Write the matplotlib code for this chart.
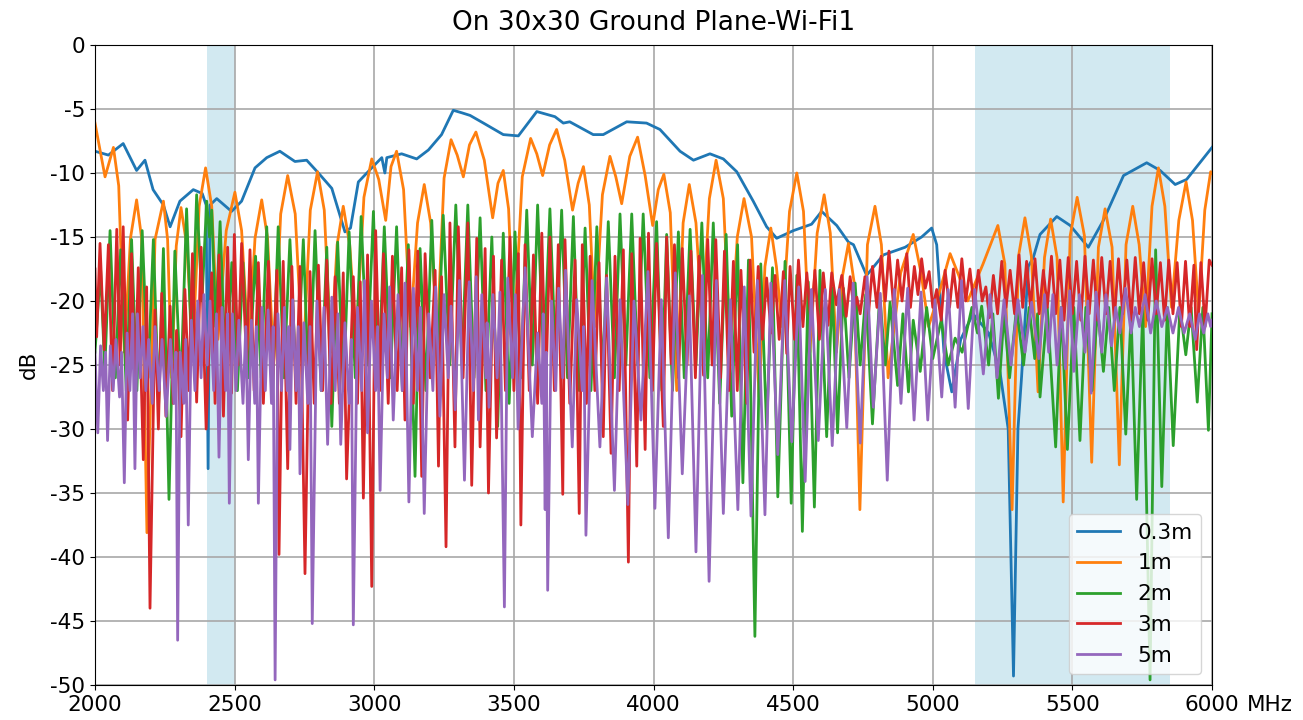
import numpy as np
import matplotlib
matplotlib.use("Agg")
import matplotlib.pyplot as plt

# (MHz, dB) points
trace_03m = [
    (2000, -8.3), (2048, -8.6), (2101, -7.7), (2149, -9.8), (2179, -9.0), (2208, -11.3),
    (2245, -12.5), (2269, -14.2), (2304, -12.2), (2352, -11.3), (2384, -11.6), (2398, -12.5),
    (2405, -33.1), (2412, -12.5), (2436, -12.0), (2489, -13.0), (2525, -12.2), (2573, -9.6),
    (2615, -8.8), (2662, -8.3), (2716, -9.1), (2758, -9.0), (2800, -10.0), (2848, -11.2),
    (2895, -14.6), (2915, -14.3), (2943, -10.7), (2991, -9.6), (3027, -8.8), (3038, -10.0),
    (3045, -8.8), (3098, -8.5), (3152, -8.9), (3194, -8.2), (3241, -7.0), (3283, -5.1),
    (3314, -5.3), (3343, -5.5), (3391, -6.1), (3462, -7.0), (3516, -7.1), (3582, -5.2),
    (3647, -5.6), (3677, -6.1), (3700, -6.0), (3784, -7.0), (3820, -7.0), (3904, -6.0),
    (3975, -6.1), (4023, -6.6), (4095, -8.3), (4143, -9.0), (4202, -8.5), (4250, -8.9),
    (4298, -9.9), (4357, -12.2), (4405, -14.2), (4441, -15.1), (4501, -14.5), (4566, -14.0),
    (4602, -13.0), (4656, -14.1), (4698, -15.4), (4716, -15.6), (4763, -18.0), (4823, -16.4),
    (4901, -15.8), (4960, -15.0), (4996, -14.3), (5014, -15.6), (5040, -24.0), (5068, -27.1),
    (5100, -23.0), (5144, -21.0), (5200, -22.5), (5241, -25.6), (5270, -30.0), (5289, -49.3),
    (5305, -30.0), (5318, -25.9), (5342, -17.3), (5360, -16.6), (5384, -14.8), (5444, -13.4),
    (5492, -14.1), (5557, -15.8), (5611, -13.7), (5683, -10.2), (5766, -9.2), (5814, -9.8),
    (5868, -10.9), (5909, -10.5), (6000, -8.0),
]

trace_1m = [
    (2000, -6.1), (2036, -10.3), (2066, -8.0), (2085, -11.0), (2105, -24.0), (2127, -15.1),
    (2149, -12.1), (2167, -15.1), (2186, -38.1), (2215, -15.2), (2245, -12.2), (2260, -15.2),
    (2275, -26.0), (2291, -15.7), (2308, -12.7), (2329, -15.7), (2350, -24.0), (2373, -12.6),
    (2396, -9.6), (2418, -12.6), (2440, -23.0), (2470, -14.5), (2501, -11.5), (2525, -14.5),
    (2550, -24.0), (2573, -15.1), (2597, -12.1), (2618, -15.1), (2640, -25.0), (2665, -13.2),
    (2690, -10.2), (2717, -13.2), (2745, -25.0), (2771, -12.9), (2797, -9.9), (2821, -12.9),
    (2845, -24.0), (2867, -15.6), (2889, -12.6), (2912, -15.6), (2935, -23.0), (2963, -11.9),
    (2991, -8.9), (3016, -10.5), (3041, -13.7), (3060, -9.5), (3080, -8.3), (3105, -11.3),
    (3130, -22.0), (3155, -13.9), (3179, -10.9), (3202, -13.9), (3225, -23.0), (3250, -10.4),
    (3275, -7.4), (3297, -8.6), (3319, -10.3), (3341, -7.8), (3364, -6.8), (3394, -9.0),
    (3424, -13.5), (3443, -10.8), (3462, -9.8), (3481, -12.8), (3500, -23.0), (3530, -10.3),
    (3560, -7.3), (3582, -8.5), (3603, -10.2), (3628, -7.8), (3653, -6.6), (3682, -9.0),
    (3710, -12.9), (3730, -10.8), (3749, -9.5), (3770, -12.5), (3790, -22.0), (3817, -11.7),
    (3844, -8.7), (3865, -10.3), (3886, -12.4), (3915, -8.7), (3943, -7.2), (3970, -10.2),
    (3997, -14.1), (4017, -11.3), (4037, -10.1), (4060, -13.1), (4083, -27.0), (4106, -13.9),
    (4128, -10.9), (4152, -13.9), (4175, -22.0), (4200, -12.0), (4224, -9.0), (4250, -12.0),
    (4275, -24.0), (4300, -15.0), (4324, -12.0), (4351, -15.0), (4378, -27.5), (4399, -17.3),
    (4420, -14.3), (4440, -17.3), (4460, -22.0), (4487, -13.0), (4513, -10.0), (4537, -13.0),
    (4560, -24.0), (4586, -14.7), (4611, -11.7), (4633, -14.7), (4655, -24.0), (4677, -18.0),
    (4698, -15.5), (4718, -18.5), (4739, -36.3), (4766, -15.6), (4793, -12.6), (4816, -15.6),
    (4840, -26.0), (4885, -17.8), (4930, -14.8), (4958, -17.8), (4985, -22.0), (5024, -19.3),
    (5062, -16.3), (5093, -18.0), (5125, -20.0), (5180, -17.1), (5233, -14.1), (5258, -17.1),
    (5284, -36.3), (5307, -16.5), (5330, -13.5), (5353, -16.5), (5377, -27.1), (5400, -16.6),
    (5422, -13.6), (5445, -16.6), (5467, -35.7), (5492, -14.9), (5517, -11.9), (5543, -14.9),
    (5569, -32.6), (5593, -15.8), (5617, -12.8), (5642, -15.8), (5668, -32.8), (5692, -15.6),
    (5716, -12.6), (5739, -15.6), (5762, -22.0), (5785, -12.6), (5808, -9.6), (5831, -12.6),
    (5855, -20.5), (5881, -13.7), (5907, -10.7), (5930, -13.7), (5952, -21.0), (5974, -12.9),
    (5995, -9.9), (6000, -10.0),
]

trace_2m = [
    (2000, -24.0), (2020, -17.5), (2035, -25.5), (2054, -14.5), (2073, -26.0), (2092, -16.0),
    (2112, -27.0), (2131, -15.2), (2150, -27.0), (2169, -14.5), (2190, -26.0), (2209, -15.2),
    (2228, -28.0), (2245, -15.9), (2265, -35.5), (2286, -16.1), (2307, -27.0), (2328, -12.8),
    (2346, -24.0), (2364, -11.7), (2383, -20.0), (2400, -12.2), (2410, -15.0), (2418, -12.9),
    (2432, -22.0), (2448, -13.8), (2468, -26.0), (2490, -17.0), (2510, -27.0), (2530, -17.0),
    (2550, -26.0), (2575, -16.5), (2595, -26.0), (2615, -14.2), (2636, -27.0), (2656, -14.2),
    (2677, -26.0), (2698, -15.2), (2722, -27.0), (2746, -15.2), (2767, -28.0), (2788, -14.5),
    (2810, -27.0), (2830, -15.8), (2848, -29.8), (2869, -15.4), (2890, -27.0), (2910, -14.6),
    (2932, -26.0), (2953, -13.4), (2975, -25.0), (2997, -13.0), (3016, -26.0), (3036, -14.2),
    (3058, -26.0), (3080, -14.2), (3101, -27.0), (3122, -15.6), (3146, -33.7), (3164, -15.9),
    (3185, -27.0), (3206, -13.7), (3226, -25.0), (3247, -13.3), (3270, -25.0), (3292, -12.5),
    (3314, -25.0), (3335, -12.5), (3357, -26.0), (3379, -13.5), (3400, -27.0), (3421, -15.0),
    (3442, -29.8), (3462, -14.7), (3483, -28.0), (3504, -14.6), (3525, -26.0), (3546, -12.9),
    (3566, -25.0), (3585, -12.5), (3607, -25.0), (3629, -12.8), (3650, -25.0), (3671, -12.9),
    (3692, -26.0), (3713, -13.4), (3734, -27.0), (3755, -14.3), (3776, -27.0), (3797, -14.2),
    (3818, -26.0), (3838, -13.8), (3860, -26.0), (3880, -13.2), (3901, -25.0), (3922, -13.2),
    (3943, -25.0), (3963, -13.2), (3987, -26.0), (4011, -13.8), (4030, -27.0), (4047, -14.8),
    (4068, -27.0), (4089, -14.6), (4110, -26.0), (4131, -14.4), (4152, -25.0), (4173, -13.9),
    (4194, -26.0), (4214, -13.9), (4237, -28.0), (4260, -14.8), (4280, -29.0), (4301, -15.6),
    (4320, -34.2), (4340, -16.8), (4363, -46.2), (4384, -17.1), (4405, -30.0), (4426, -17.4),
    (4445, -35.3), (4471, -16.9), (4493, -35.8), (4513, -18.0), (4533, -38.0), (4554, -18.5),
    (4576, -36.1), (4596, -17.6), (4620, -30.6), (4640, -19.0), (4659, -30.3), (4680, -19.0),
    (4700, -26.0), (4722, -18.6), (4740, -25.0), (4760, -19.5), (4784, -29.6), (4810, -19.5),
    (4830, -25.0), (4847, -20.1), (4874, -26.6), (4893, -21.0), (4913, -27.1), (4930, -21.5),
    (4955, -25.5), (4978, -20.5), (5000, -24.5), (5030, -21.5), (5055, -25.0), (5080, -22.9),
    (5105, -24.0), (5140, -20.5), (5160, -22.5), (5175, -20.4), (5200, -25.0), (5215, -21.0),
    (5235, -27.6), (5255, -21.0), (5275, -26.0), (5300, -20.5), (5325, -25.0), (5345, -20.5),
    (5365, -24.5), (5375, -21.0), (5384, -27.5), (5410, -20.5), (5440, -31.4), (5460, -20.5),
    (5482, -31.6), (5505, -20.5), (5527, -30.9), (5548, -20.5), (5570, -27.0), (5590, -20.5),
    (5611, -25.5), (5630, -20.5), (5650, -27.0), (5670, -20.5), (5691, -30.4), (5710, -21.0),
    (5730, -35.5), (5752, -20.5), (5778, -49.6), (5798, -16.0), (5820, -34.5), (5840, -20.5),
    (5861, -31.3), (5885, -20.5), (5906, -24.2), (5925, -20.5), (5947, -27.9), (5967, -20.5),
    (5987, -30.1), (6000, -21.0),
]

trace_3m = [
    (2000, -17.5), (2006, -22.8), (2018, -15.5), (2033, -23.8), (2048, -15.6), (2063, -27.0),
    (2078, -14.4), (2090, -25.0), (2101, -14.2), (2117, -29.3), (2131, -16.3), (2143, -27.0),
    (2155, -17.4), (2173, -32.4), (2185, -18.9), (2197, -44.0), (2215, -20.7), (2227, -30.0),
    (2239, -19.4), (2254, -29.0), (2269, -20.4), (2280, -28.0), (2292, -22.3), (2308, -30.6),
    (2322, -19.1), (2336, -27.0), (2349, -16.3), (2364, -27.9), (2380, -15.8), (2398, -30.0),
    (2418, -17.8), (2430, -28.0), (2444, -16.4), (2460, -29.0), (2475, -15.8), (2489, -27.2),
    (2499, -14.8), (2512, -25.0), (2525, -15.5), (2543, -24.9), (2555, -16.0), (2570, -27.0),
    (2585, -17.0), (2603, -28.0), (2621, -16.9), (2636, -27.0), (2651, -17.6), (2659, -39.8),
    (2674, -16.9), (2690, -33.1), (2705, -17.3), (2720, -28.0), (2734, -17.3), (2752, -41.3),
    (2770, -17.7), (2785, -28.0), (2800, -17.2), (2815, -27.0), (2830, -16.8), (2845, -28.0),
    (2860, -18.1), (2875, -28.0), (2889, -17.8), (2901, -33.9), (2925, -18.1), (2940, -28.0),
    (2950, -18.5), (2961, -35.4), (2976, -16.4), (2991, -42.3), (3005, -14.5), (3020, -27.0),
    (3033, -16.3), (3050, -28.0), (3065, -16.5), (3082, -27.0), (3098, -17.4), (3110, -29.3),
    (3124, -16.0), (3140, -28.0), (3156, -16.1), (3170, -33.7), (3182, -16.3), (3200, -26.0),
    (3218, -17.6), (3230, -32.9), (3241, -18.1), (3257, -39.2), (3271, -13.9), (3289, -31.4),
    (3301, -14.2), (3318, -26.0), (3335, -13.9), (3349, -34.4), (3367, -15.1), (3379, -31.4),
    (3397, -15.9), (3409, -35.0), (3427, -16.5), (3438, -30.7), (3456, -16.8), (3470, -27.0),
    (3486, -15.0), (3500, -27.0), (3516, -16.3), (3525, -37.5), (3540, -15.6), (3555, -27.0),
    (3570, -16.4), (3585, -28.0), (3600, -14.7), (3614, -27.0), (3629, -15.0), (3645, -27.0),
    (3659, -15.6), (3675, -35.1), (3683, -15.2), (3700, -28.0), (3719, -16.8), (3734, -36.6),
    (3745, -15.6), (3760, -28.0), (3773, -16.5), (3790, -27.0), (3805, -17.0), (3820, -30.6),
    (3832, -18.0), (3848, -31.9), (3862, -16.5), (3877, -27.0), (3892, -16.0), (3910, -40.4),
    (3922, -16.3), (3940, -32.9), (3952, -15.1), (3970, -31.6), (3982, -14.7), (3996, -27.0),
    (4011, -15.5), (4035, -29.8), (4047, -15.0), (4063, -24.9), (4075, -15.6), (4090, -26.0),
    (4103, -15.9), (4120, -25.0), (4134, -16.1), (4150, -26.0), (4163, -16.5), (4179, -25.8),
    (4194, -15.2), (4210, -25.0), (4223, -15.2), (4240, -26.0), (4254, -16.1), (4270, -27.0),
    (4286, -16.9), (4300, -27.0), (4313, -17.6), (4334, -28.0), (4346, -16.8), (4360, -24.0),
    (4375, -17.3), (4390, -23.0), (4405, -18.2), (4421, -22.5), (4435, -18.0), (4450, -23.0),
    (4465, -17.7), (4477, -24.1), (4489, -17.3), (4505, -23.0), (4519, -16.8), (4535, -22.0),
    (4549, -17.8), (4564, -21.7), (4578, -17.6), (4594, -23.0), (4608, -17.8), (4625, -21.9),
    (4638, -17.8), (4655, -20.3), (4674, -18.0), (4690, -21.2), (4704, -18.1), (4718, -20.7),
    (4728, -19.7), (4740, -21.0), (4757, -18.1), (4770, -21.0), (4784, -17.3), (4800, -20.5),
    (4815, -16.5), (4830, -20.0), (4843, -16.1), (4860, -20.5), (4874, -16.8), (4890, -20.0),
    (4907, -16.3), (4920, -20.5), (4934, -17.3), (4947, -19.5), (4960, -16.7), (4973, -19.0),
    (4987, -17.7), (5000, -20.5), (5014, -19.1), (5030, -21.5), (5044, -17.6), (5060, -20.5),
    (5074, -17.5), (5090, -20.5), (5104, -16.7), (5118, -20.0), (5133, -17.5), (5148, -20.5),
    (5163, -17.6), (5177, -20.0), (5190, -18.9), (5203, -21.3), (5217, -18.0), (5232, -21.0),
    (5247, -16.9), (5262, -20.5), (5277, -17.6), (5293, -21.0), (5309, -16.4), (5322, -20.5),
    (5336, -16.9), (5350, -20.5), (5366, -16.7), (5381, -21.0), (5396, -17.6), (5410, -20.5),
    (5425, -16.5), (5440, -21.0), (5455, -16.8), (5470, -21.5), (5485, -16.6), (5500, -21.0),
    (5515, -16.9), (5530, -21.5), (5545, -16.5), (5560, -21.0), (5575, -16.8), (5590, -21.5),
    (5605, -16.6), (5620, -21.0), (5635, -16.9), (5650, -21.5), (5665, -16.7), (5680, -21.0),
    (5695, -16.8), (5710, -21.5), (5725, -16.6), (5740, -21.0), (5755, -17.0), (5770, -21.5),
    (5785, -16.7), (5800, -21.0), (5815, -17.0), (5830, -21.5), (5845, -16.8), (5860, -21.0),
    (5875, -17.0), (5890, -22.0), (5905, -16.9), (5920, -22.0), (5935, -17.2), (5945, -23.8),
    (5960, -17.0), (5975, -22.0), (5990, -16.8), (6000, -17.2),
]

trace_5m = [
    (2000, -24.0), (2010, -30.3), (2020, -23.5), (2030, -27.0), (2038, -24.0), (2045, -30.9),
    (2055, -23.5), (2065, -27.0), (2075, -23.0), (2088, -27.5), (2095, -24.0), (2105, -34.2),
    (2115, -22.5), (2125, -27.0), (2135, -21.0), (2143, -33.1), (2152, -21.0), (2162, -26.0),
    (2172, -22.0), (2182, -27.0), (2192, -23.0), (2205, -28.0), (2215, -22.0), (2230, -27.0),
    (2240, -23.0), (2255, -29.0), (2270, -23.0), (2283, -28.0), (2290, -24.0), (2296, -46.5),
    (2305, -24.0), (2318, -28.0), (2325, -23.0), (2334, -37.5), (2345, -21.5), (2358, -27.0),
    (2368, -20.0), (2380, -26.0), (2390, -19.5), (2402, -25.0), (2412, -20.0), (2425, -27.0),
    (2435, -21.0), (2444, -32.2), (2455, -20.5), (2468, -27.0), (2475, -21.0), (2481, -35.8),
    (2492, -21.0), (2505, -27.0), (2515, -21.5), (2530, -28.0), (2540, -22.0), (2549, -32.4),
    (2560, -21.5), (2572, -28.0), (2578, -22.0), (2585, -35.8), (2598, -20.5), (2610, -27.0),
    (2620, -20.7), (2632, -28.0), (2638, -22.0), (2645, -49.6), (2655, -21.0), (2668, -27.0),
    (2678, -20.5), (2688, -27.0), (2694, -22.0), (2698, -31.6), (2708, -19.9), (2720, -27.0),
    (2728, -22.0), (2734, -33.5), (2748, -21.7), (2762, -28.0), (2770, -22.0), (2778, -45.2),
    (2795, -20.0), (2810, -27.0), (2820, -20.5), (2833, -31.2), (2848, -19.7), (2860, -27.0),
    (2870, -21.0), (2880, -31.2), (2895, -21.7), (2910, -28.0), (2918, -23.0), (2925, -45.3),
    (2940, -20.5), (2955, -27.0), (2965, -18.4), (2976, -30.3), (2990, -20.0), (3005, -27.0),
    (3012, -22.0), (3021, -34.8), (3035, -21.0), (3047, -26.0), (3055, -18.9), (3068, -29.3),
    (3085, -19.5), (3100, -27.0), (3110, -18.6), (3124, -35.7), (3140, -19.0), (3155, -27.0),
    (3165, -20.5), (3179, -36.6), (3195, -21.0), (3210, -27.0), (3220, -18.9), (3235, -29.0),
    (3250, -19.5), (3265, -26.0), (3275, -20.4), (3290, -28.5), (3305, -18.4), (3323, -34.0),
    (3340, -18.5), (3355, -27.0), (3365, -18.1), (3373, -29.3), (3385, -19.5), (3400, -26.0),
    (3404, -21.7), (3411, -28.3), (3425, -19.5), (3440, -26.0), (3450, -19.3), (3466, -43.9),
    (3478, -18.2), (3495, -26.0), (3505, -19.5), (3515, -30.0), (3540, -17.4), (3566, -30.6),
    (3585, -22.5), (3600, -28.0), (3605, -21.0), (3612, -36.3), (3616, -24.0), (3621, -42.6),
    (3635, -20.0), (3650, -27.0), (3660, -19.0), (3675, -26.0), (3685, -17.6), (3709, -31.4),
    (3725, -19.9), (3745, -27.0), (3750, -22.0), (3758, -38.3), (3780, -18.4), (3808, -31.4),
    (3832, -18.2), (3860, -34.8), (3880, -19.9), (3908, -35.9), (3930, -20.0), (3955, -29.3),
    (3980, -17.7), (4005, -36.2), (4028, -19.9), (4053, -38.5), (4078, -17.8), (4103, -33.5),
    (4128, -19.6), (4152, -39.6), (4175, -18.0), (4199, -41.9), (4225, -18.4), (4250, -36.6),
    (4275, -19.9), (4302, -36.3), (4325, -18.9), (4349, -36.8), (4372, -18.4), (4399, -36.7),
    (4420, -18.6), (4445, -32.0), (4470, -18.4), (4495, -31.0), (4520, -18.9), (4543, -34.1),
    (4565, -19.1), (4590, -30.9), (4615, -19.1), (4640, -31.3), (4665, -19.1), (4692, -29.9),
    (4715, -18.6), (4740, -31.1), (4765, -18.1), (4787, -28.3), (4812, -19.4), (4837, -34.0),
    (4862, -19.1), (4886, -28.0), (4910, -19.0), (4933, -29.3), (4958, -19.3), (4982, -29.3),
    (5008, -19.9), (5032, -27.5), (5055, -19.1), (5080, -28.3), (5103, -18.4), (5127, -28.4),
    (5150, -19.1), (5181, -25.7), (5205, -19.5), (5230, -26.0), (5255, -19.9), (5280, -25.0),
    (5305, -19.9), (5330, -24.0), (5354, -20.1), (5380, -24.5), (5400, -19.5), (5415, -24.0),
    (5430, -19.5), (5445, -25.0), (5460, -20.5), (5475, -25.3), (5490, -19.2), (5505, -25.5),
    (5525, -19.5), (5545, -24.0), (5555, -20.0), (5567, -27.2), (5585, -19.3), (5605, -24.0),
    (5620, -19.5), (5640, -23.5), (5655, -20.5), (5670, -22.5), (5690, -19.0), (5710, -22.5),
    (5725, -20.5), (5740, -22.0), (5760, -19.5), (5780, -22.5), (5800, -20.0), (5820, -22.0),
    (5840, -20.5), (5860, -22.5), (5880, -20.5), (5900, -22.5), (5920, -21.0), (5940, -23.0),
    (5955, -21.0), (5970, -22.5), (5985, -21.0), (5995, -22.0), (6000, -21.5),
]

labels = ["0.3m", "1m", "2m", "3m", "5m"]
colors = ["#1f77b4", "#ff7f0e", "#2ca02c", "#d62728", "#9467bd"]
wifi_bands = [(2400, 2500), (5150, 5850)]

fig = plt.figure(figsize=(13.03, 7.2), dpi=100)
ax = fig.add_axes([0.0729, 0.0486, 0.8573, 0.8889])

for lo, hi in wifi_bands:
    ax.axvspan(lo, hi, color="lightblue", alpha=0.55, lw=0)

for trace, lab, col in zip([trace_03m, trace_1m, trace_2m, trace_3m, trace_5m], labels, colors):
    f, db = np.array(trace).T
    ax.plot(f, db, color=col, lw=2.0, label=lab)

ax.set_xlim(2000, 6000)
ax.set_ylim(-50, 0)
ax.set_xticks(np.arange(2000, 6001, 500))
ax.set_yticks(np.arange(-50, 1, 5))
ax.set_yticklabels([str(v) for v in range(-50, 1, 5)])
ax.tick_params(labelsize=15.5)
ax.grid(True, color="#a8a8a8", lw=1.2)
ax.set_title("On 30x30 Ground Plane-Wi-Fi1", fontsize=19, pad=11)
ax.set_ylabel("dB", fontsize=15.5, labelpad=8)
ax.set_xlabel("MHz", fontsize=15.5)
ax.xaxis.set_label_coords(1.052, -0.0155)
ax.legend(loc="lower right", fontsize=15.5, framealpha=0.8, handlelength=2.0)

fig.savefig("out.png", dpi=100)
